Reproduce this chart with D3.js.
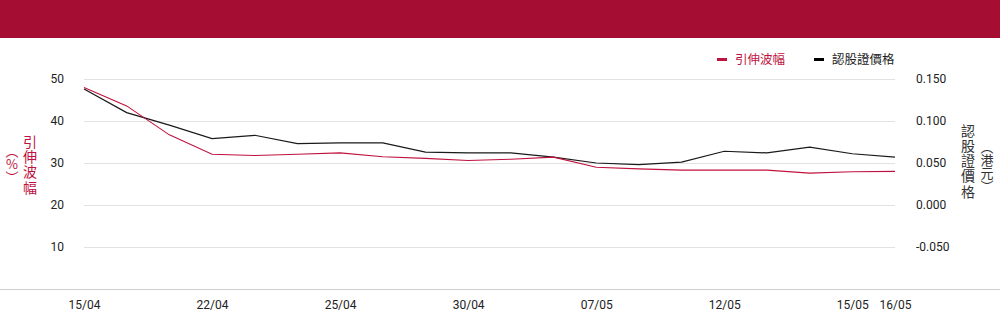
<!DOCTYPE html>
<html><head><meta charset="utf-8">
<script src="https://cdn.jsdelivr.net/npm/d3@7"></script>
<style>
html,body{margin:0;padding:0;background:#fff;}
svg{display:block;font-family:Roboto,"Noto Sans CJK TC","Noto Sans",sans-serif;}
.vt{writing-mode:vertical-rl;text-orientation:upright;font-family:"Noto Sans CJK TC",sans-serif;}
</style></head>
<body><svg id="c" width="1000" height="324"></svg>
<script>
const dates = ["15/04","19/04","20/04","22/04","23/04","24/04","25/04","27/04","28/04","30/04","03/05","05/05","07/05","09/05","10/05","12/05","13/05","14/05","15/05","16/05"];
const shownLabels = ["15/04","22/04","25/04","30/04","07/05","12/05","15/05","16/05"];
const volatility = [48.0,43.6,36.7,32.1,31.8,32.1,32.4,31.5,31.1,30.6,30.9,31.4,29.0,28.6,28.3,28.3,28.3,27.6,27.9,28.0];
const price = [0.138,0.110,0.095,0.079,0.083,0.073,0.074,0.074,0.063,0.062,0.062,0.057,0.050,0.048,0.051,0.064,0.062,0.069,0.061,0.057];
const leftTicks = [10,20,30,40,50];
const rightTicks = [-0.05,0,0.05,0.10,0.15];
const seriesNames = ["引伸波幅","認股證價格"];
const leftUnit = "（%）";
const rightUnit = "（港元）";

const RED = "#c0123e", DARK = "#1a1a1a", TXT = "#222";
const svg = d3.select("#c");

svg.append("rect").attr("x",0).attr("y",0).attr("width",1000).attr("height",38).attr("fill","#a50d33");

const x = d3.scalePoint().domain(dates).range([84,895]);
const yL = d3.scaleLinear().domain([0,50]).range([289,79]);
const yR = d3.scaleLinear().domain([-0.1,0.15]).range([289,79]);

// gridlines
svg.append("g").selectAll("line").data(leftTicks).join("line")
  .attr("x1",84).attr("x2",895).attr("y1",d=>yL(d)).attr("y2",d=>yL(d))
  .attr("stroke","#e2e2e2").attr("stroke-width",1).attr("shape-rendering","crispEdges");

// bottom axis line
svg.append("line").attr("x1",0).attr("x2",1000).attr("y1",yL(0)+0.5).attr("y2",yL(0)+0.5)
  .attr("stroke","#cfcfcf").attr("stroke-width",1);

// left ticks
const gl = svg.append("g").attr("transform","translate(64,0)")
  .call(d3.axisLeft(yL).tickValues(leftTicks).tickSize(0).tickPadding(0).tickFormat(d3.format("d")));
gl.select(".domain").remove();
gl.selectAll("text").attr("font-size",12).attr("fill",TXT).attr("font-family","Roboto");

// right ticks
const fmtR = d => d3.format(".3f")(d).replace("\u2212","-");
const gr = svg.append("g").attr("transform","translate(916,0)")
  .call(d3.axisRight(yR).tickValues(rightTicks).tickSize(0).tickPadding(0).tickFormat(fmtR));
gr.select(".domain").remove();
gr.selectAll("text").attr("font-size",12).attr("fill",TXT).attr("font-family","Roboto");

// x labels
const gx = svg.append("g").attr("transform","translate(0,300)")
  .call(d3.axisBottom(x).tickValues(shownLabels).tickSize(0).tickPadding(0));
gx.select(".domain").remove();
gx.selectAll("text").attr("font-size",12).attr("fill",TXT).attr("font-family","Roboto");

// lines
const lineL = d3.line().x((d,i)=>x(dates[i])).y(d=>yL(d));
const lineR = d3.line().x((d,i)=>x(dates[i])).y(d=>yR(d));
svg.append("path").datum(price).attr("d",lineR).attr("fill","none").attr("stroke",DARK).attr("stroke-width",1.2);
svg.append("path").datum(volatility).attr("d",lineL).attr("fill","none").attr("stroke",RED).attr("stroke-width",1.1);

// legend
const lg = svg.append("g").attr("font-size",12.5);
lg.append("rect").attr("x",717).attr("y",58).attr("width",10).attr("height",3).attr("fill",RED);
lg.append("text").attr("x",735).attr("y",64).attr("fill",RED).text(seriesNames[0]);
lg.append("rect").attr("x",814).attr("y",58).attr("width",10).attr("height",3).attr("fill","#000");
lg.append("text").attr("x",832).attr("y",64).attr("fill",TXT).text(seriesNames[1]);

// vertical axis titles
function vcol(t, cx, cy, color, size, ls){
  svg.append("text").attr("class","vt").attr("x",cx).attr("y",cy)
    .attr("font-size",size).attr("fill",color).attr("text-anchor","middle")
    .style("letter-spacing",ls+"px").text(t);
}
vcol(seriesNames[0], 30, 165, RED, 14, 1.3);
vcol(leftUnit, 12, 164, RED, 13, 0);
vcol(seriesNames[1], 968, 161.5, "#333", 14, 1.2);
vcol(rightUnit, 987, 166.5, "#333", 13, 0);
</script></body></html>
